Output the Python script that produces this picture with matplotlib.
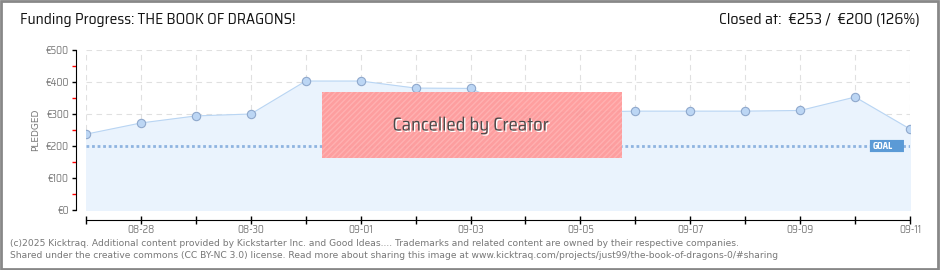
import numpy as np
import matplotlib.pyplot as plt
import matplotlib.patheffects as pe
from matplotlib.patches import Rectangle, FancyBboxPatch

plt.rcParams['font.family'] = ['Saira SemiCondensed', 'DejaVu Sans']
FOOT = ['DejaVu Sans']

dates = ['08-27', '08-28', '08-29', '08-30', '08-31', '09-01', '09-02', '09-03',
         '09-04', '09-05', '09-06', '09-07', '09-08', '09-09', '09-10', '09-11']
pledged = [237, 272, 294, 300, 403, 403, 381, 380, 303, 306, 309, 309, 309, 311, 353, 253]
goal = 200
yticks = [0, 100, 200, 300, 400, 500]
ylabels = ['€0', '€100', '€200', '€300', '€400', '€500']

W, H = 940, 270
fig = plt.figure(figsize=(W / 100, H / 100), dpi=100)

# plot area in pixels: x 86..910, y 50..210
ax = fig.add_axes([86 / W, 1 - 210 / H, 824 / W, 160 / H])
x = np.arange(len(dates))
ax.set_xlim(0, len(dates) - 1)
ax.set_ylim(0, 500)

ax.fill_between(x, pledged, 0, color='#eaf3fd', zorder=1)
ax.plot(x, pledged, color='#b9d5f3', lw=0.8, zorder=3)
ax.plot(x, pledged, 'o', ms=6, mfc='#bcd6f4', mec='#8fa8cc', mew=0.8, zorder=4)
ax.axhline(goal, color='#8fb4e0', lw=2, ls=(0, (1, 1)), zorder=2)

for v in yticks[1:]:
    ax.axhline(v, color='#e0e0e0', lw=0.8, ls=(0, (5, 4)), zorder=0)
for xi in x:
    ax.axvline(xi, color='#e0e0e0', lw=0.8, ls=(0, (5, 4)), zorder=0)

# spines
for s in ['top', 'right']:
    ax.spines[s].set_visible(False)
ax.spines['left'].set_position(('outward', 7.2))
ax.spines['bottom'].set_position(('outward', 7.2))

ax.set_yticks(yticks)
ax.set_yticklabels(ylabels, fontsize=7.5, color='#777777')
ax.set_yticks([50, 150, 250, 350, 450], minor=True)
ax.tick_params(axis='y', which='major', direction='out', length=3, width=1, color='black', pad=2)
ax.tick_params(axis='y', which='minor', direction='out', length=3, width=1, color='red')
ax.set_xticks(x)
ax.set_xticklabels([d if i % 2 == 1 else '' for i, d in enumerate(dates)], fontsize=7.5, color='#777777')
ax.tick_params(axis='x', direction='inout', length=6, width=1, color='black', pad=0)
ax.set_ylabel('PLEDGED', fontsize=6.5, color='#777777', labelpad=4, family=FOOT)

# goal tag
ax.add_patch(FancyBboxPatch((14.27, 181), 0.62, 38, boxstyle='round,pad=0,rounding_size=0.05',
                            fc='#5b9ad6', ec='none', zorder=6, clip_on=False))
ax.text(14.32, 199, 'GOAL', fontsize=6.5, color='white', fontweight='bold',
        va='center', ha='left', zorder=7)

# cancelled banner
ax.add_patch(Rectangle((4.3, 163), 5.45, 206, fc='#ff9a9a', ec='#ffb2b2', lw=0, hatch='//////',
                       alpha=0.95, zorder=8))
ax.text(7.0, 264, 'Cancelled by Creator', fontsize=13.5, color='#4a4a4a', ha='center', va='center',
        zorder=9, path_effects=[pe.withSimplePatchShadow(offset=(1, -1), shadow_rgbFace='white', alpha=1)])

# header
fig.text(20 / W, 1 - 20 / H, 'Funding Progress: THE BOOK OF DRAGONS!', fontsize=11.2,
         color='#111111', va='center', ha='left')
fig.text(920 / W, 1 - 20 / H, 'Closed at:  €253 /  €200 (126%)', fontsize=11.5,
         color='#111111', va='center', ha='right')

# footer
fig.text(10 / W, 1 - 243 / H, '(c)2025 Kicktraq. Additional content provided by Kickstarter Inc. and Good Ideas.... '
         'Trademarks and related content are owned by their respective companies.',
         fontsize=6.6, color='#777777', va='center', ha='left', family=FOOT)
fig.text(10 / W, 1 - 256 / H, 'Shared under the creative commons (CC BY-NC 3.0) license. Read more about sharing '
         'this image at www.kicktraq.com/projects/just99/the-book-of-dragons-0/#sharing',
         fontsize=6.6, color='#777777', va='center', ha='left', family=FOOT)

# outer frame
fig.add_artist(Rectangle((0.001, 0.002), 0.997, 0.995, transform=fig.transFigure, fill=False,
                         ec='#888888', lw=2))

fig.savefig('out.png', dpi=100)
